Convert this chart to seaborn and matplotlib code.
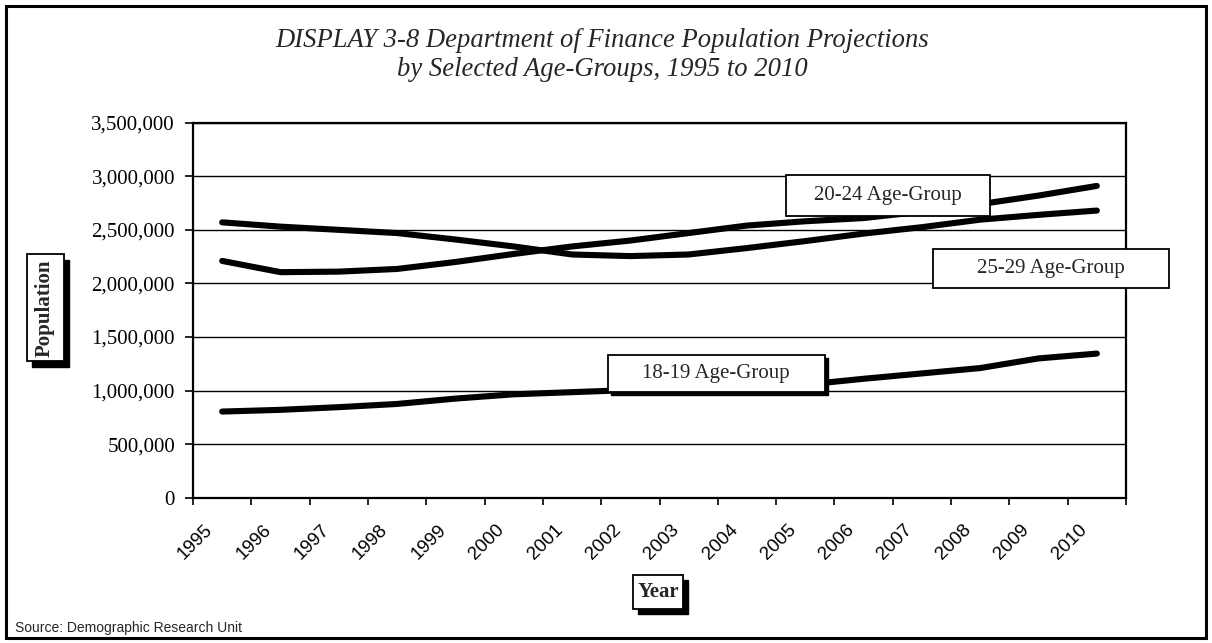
import pandas as pd
import matplotlib
matplotlib.use('Agg')
import matplotlib.pyplot as plt
import matplotlib.patches as mpatches
import matplotlib.transforms as mtransforms
from matplotlib.ticker import FuncFormatter, MultipleLocator
import seaborn as sns

# Dados (população projetada)
anos = ['1995', '1996', '1997', '1998', '1999', '2000', '2001', '2002',
        '2003', '2004', '2005', '2006', '2007', '2008', '2009', '2010']
grupo_18_19 = [804000, 820000, 845000, 875000, 925000, 965000, 985000, 1005000,
               1020000, 1035000, 1055000, 1110000, 1160000, 1210000, 1300000, 1345000]
grupo_20_24 = [2210000, 2105000, 2110000, 2135000, 2200000, 2275000, 2345000, 2400000,
               2470000, 2540000, 2580000, 2610000, 2670000, 2740000, 2820000, 2910000]
grupo_25_29 = [2570000, 2530000, 2500000, 2470000, 2410000, 2345000, 2270000, 2255000,
               2270000, 2330000, 2395000, 2465000, 2525000, 2595000, 2640000, 2680000]
rotulos = ['18-19 Age-Group', '20-24 Age-Group', '25-29 Age-Group']

df = pd.DataFrame({
    'ano': anos * 3,
    'pos': list(range(len(anos))) * 3,
    'populacao': grupo_18_19 + grupo_20_24 + grupo_25_29,
    'grupo': [rotulos[0]] * 16 + [rotulos[1]] * 16 + [rotulos[2]] * 16,
})

W, H = 1212, 643
sns.set_style('white')
plt.rcParams['font.family'] = ['Liberation Serif', 'DejaVu Serif']

fig = plt.figure(figsize=(W / 100, H / 100), dpi=100)
ax = fig.add_axes([193 / W, 1 - 497.7 / H, (1126 - 193) / W, (497.7 - 122.7) / H])

sns.lineplot(data=df, x='pos', y='populacao', hue='grupo',
             palette={r: 'black' for r in rotulos}, linewidth=4.4,
             legend=False, errorbar=None, ax=ax, solid_capstyle='round')

# Eixos
ax.set_xlim(-0.5, len(anos) - 0.5)
ax.set_ylim(0, 3500000)
ax.yaxis.set_major_locator(MultipleLocator(500000))
ax.yaxis.set_major_formatter(FuncFormatter(lambda v, p: f'{int(v):,}'))
ax.grid(axis='y', color='black', linewidth=1.0)
ax.set_axisbelow(True)
for s in ax.spines.values():
    s.set_color('black')
    s.set_linewidth(1.6)

ax.tick_params(axis='y', which='major', direction='out', length=6, width=1.2,
               pad=7, labelsize=15, colors='black', left=True)
ax.set_xticks(range(len(anos)))
ax.set_xticks([i - 0.5 for i in range(len(anos) + 1)], minor=True)
ax.set_xticklabels(anos, rotation=45, ha='right', fontsize=13.5,
                   family=['Liberation Sans', 'DejaVu Sans'])
ax.tick_params(axis='x', which='major', length=0, pad=17, colors='black')
ax.tick_params(axis='x', which='minor', direction='out', length=5, width=1.2,
               bottom=True, color='black')
desloc = mtransforms.ScaledTranslation(-0.06, 0, fig.dpi_scale_trans)
for lbl in ax.get_xticklabels():
    lbl.set_transform(lbl.get_transform() + desloc)
ax.set_xlabel('')
ax.set_ylabel('')

# Título
fig.text(0.497, 1 - 55 / H,
         'DISPLAY 3-8 Department of Finance Population Projections\n'
         'by Selected Age-Groups, 1995 to 2010',
         ha='center', va='center', fontsize=19.2, style='italic', linespacing=1.2)


def caixa(cx, cy, w, h, sombra=0):
    if sombra:
        fig.patches.append(mpatches.Rectangle(
            ((cx - w / 2 + sombra) / W, 1 - (cy + h / 2 + sombra) / H), w / W, h / H,
            transform=fig.transFigure, facecolor='black', edgecolor='black', zorder=5))
    fig.patches.append(mpatches.Rectangle(
        ((cx - w / 2) / W, 1 - (cy + h / 2) / H), w / W, h / H,
        transform=fig.transFigure, facecolor='white', edgecolor='black',
        linewidth=1.3, zorder=6))
    return (cx / W, 1 - cy / H)


# Rótulos das séries
p = caixa(888, 195.5, 204, 41)
fig.text(*p, rotulos[1], ha='center', va='center', fontsize=15, zorder=7)
p = caixa(1051, 268.5, 236, 39)
fig.text(*p, rotulos[2], ha='center', va='center', fontsize=15, zorder=7)
p = caixa(716, 373.5, 217, 37, sombra=3)
fig.text(*p, rotulos[0], ha='center', va='center', fontsize=15, zorder=7)

# Títulos dos eixos em caixas com sombra
p = caixa(45, 308, 37, 107, sombra=5)
fig.text(*p, 'Population', ha='center', va='center', fontsize=15,
         fontweight='bold', rotation=90, zorder=7)
p = caixa(658, 592, 50, 34, sombra=5)
fig.text(*p, 'Year', ha='center', va='center', fontsize=15,
         fontweight='bold', zorder=7)

fig.text(15 / W, 1 - 628 / H, 'Source: Demographic Research Unit', ha='left',
         va='center', fontsize=10, family=['Liberation Sans', 'DejaVu Sans'])

# Moldura externa
fig.patches.append(mpatches.Rectangle((6 / W, 5 / H), 1200 / W, 632 / H,
                                      transform=fig.transFigure, fill=False,
                                      edgecolor='black', linewidth=2.2))

fig.savefig('out.png', dpi=100)
